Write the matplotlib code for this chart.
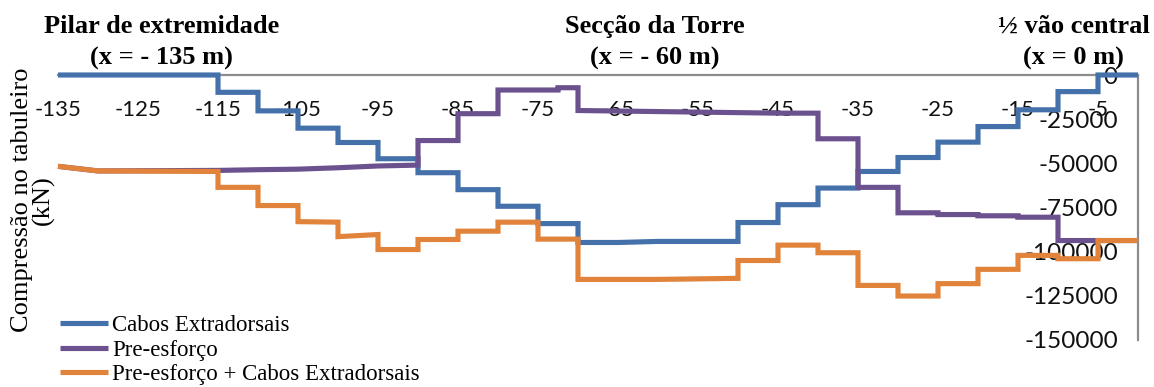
import matplotlib.pyplot as plt

# deck compression along the half-bridge (kN), x in metres from mid-span
cabos_x = [-135, -115, -115, -110, -110, -105, -105, -100, -100, -95, -95, -90, -90,
           -85, -85, -80, -80, -75, -75, -70, -70, -65, -60, -50, -50, -45, -45,
           -40, -40, -35, -35, -30, -30, -25, -25, -20, -20, -15, -15, -10, -10, -5, -5, 0]
cabos_y = [0, 0, -9800, -9800, -20300, -20300, -30100, -30100, -38200, -38200, -47400, -47400, -55300,
           -55300, -64900, -64900, -74300, -74300, -84100, -84100, -94800, -94800, -94200, -94200, -83500, -83500, -73400,
           -73400, -64000, -64000, -54600, -54600, -46700, -46700, -38000, -38000, -29200, -29200, -19700, -19700, -9400, -9400, 0, 0]

pre_x = [-135, -130, -115, -110, -105, -100, -95, -90, -90, -85, -85, -80, -80, -72.5, -72.5, -70, -70,
         -60, -50, -45, -40, -40, -35, -35, -30, -30, -25, -25, -20, -20, -15, -15, -10, -10, 0]
pre_y = [-51700, -54300, -54000, -53600, -53300, -52500, -51500, -51000, -37100, -37100, -21900, -21900, -8500, -8500, -7200, -7200, -20100,
         -20700, -21300, -21600, -21600, -36100, -36100, -63600, -63600, -78000, -78000, -79000, -79000, -79700, -79700, -80500, -80500, -93700, -93700]

soma_x = [-135, -130, -115, -115, -110, -110, -105, -105, -100, -100, -95, -95, -90, -90,
          -85, -85, -80, -80, -75, -75, -70, -70, -60, -50, -50, -45, -45, -40, -40,
          -35, -35, -30, -30, -25, -25, -20, -20, -15, -15, -10, -10, -5, -5, 0]
soma_y = [-51700, -54300, -54600, -63600, -63600, -73900, -73900, -83000, -83300, -91500, -90300, -98800, -98800, -93100,
          -93100, -88400, -88400, -83300, -83300, -92900, -92900, -115700, -115700, -115100, -105000, -105000, -96300, -96300, -100600,
          -100600, -119100, -119100, -125100, -125100, -118100, -118100, -110000, -110000, -102100, -102100, -104000, -104000, -93700, -93700]

series = [
    ("Cabos Extradorsais", cabos_x, cabos_y, "#4571AB"),
    ("Pre-esforço", pre_x, pre_y, "#6B518E"),
    ("Pre-esforço + Cabos Extradorsais", soma_x, soma_y, "#E1833A"),
]

x_ticks = list(range(-135, 0, 10))
y_ticks = [0, -25000, -50000, -75000, -100000, -125000, -150000]

secoes = [
    (161.7, "Pilar de extremidade", "(x = - 135 m)"),
    (654.5, "Secção da Torre", "(x = - 60 m)"),
    (1073.5, "½ vão central", "(x = 0 m)"),
]

W, H = 1154, 387
fig = plt.figure(figsize=(W / 100, H / 100), dpi=100)
ax = fig.add_axes([58 / W, 1 - 340 / H, (1138 - 58) / W, (340 - 75) / H])

for nome, xs, ys, cor in series:
    ax.plot(xs, ys, color=cor, lw=3.7, label=nome, zorder=3, clip_on=False,
            solid_joinstyle="miter", solid_capstyle="butt")

ax.set_xlim(-135, 0)
ax.set_ylim(-150000, 0)

for lado in ["left", "bottom"]:
    ax.spines[lado].set_visible(False)
for lado in ["top", "right"]:
    ax.spines[lado].set_color("#8c8c8c")
    ax.spines[lado].set_linewidth(1.6)

ax.set_xticks(x_ticks)
ax.set_xticklabels([str(v) for v in x_ticks])
ax.tick_params(axis="x", bottom=False, labelbottom=False, top=False, labeltop=True,
               pad=-36, labelsize=16, labelcolor="#111111")
ax.set_yticks(y_ticks)
ax.set_yticklabels([str(v) for v in y_ticks])
ax.tick_params(axis="y", left=False, labelleft=False, right=False, labelright=True,
               pad=-18, labelsize=17.5, labelcolor="#111111")
for lbl in ax.get_xticklabels() + ax.get_yticklabels():
    lbl.set_fontfamily("Lato")
for lbl in ax.get_yticklabels():
    lbl.set_horizontalalignment("right")

serif = "Liberation Serif"
for cx, linha1, linha2 in secoes:
    fig.text(cx / W, 1 - 33 / H, linha1, ha="center", va="baseline",
             fontsize=19, fontweight="bold", family=serif)
    fig.text(cx / W, 1 - 65 / H, linha2, ha="center", va="baseline",
             fontsize=19, fontweight="bold", family=serif)

fig.text(33 / W, 1 - 200 / H, "Compressão no tabuleiro\n(kN)", rotation=90,
         ha="center", va="center", multialignment="center", linespacing=0.98,
         fontsize=19, family=serif)

fig.legend(loc="center left", bbox_to_anchor=(60 / W, 1 - 350 / H), frameon=False,
           borderpad=0, borderaxespad=0, handlelength=2.1, handletextpad=0.17,
           labelspacing=0.17, prop={"family": serif, "size": 16.5})

fig.savefig("out.png", dpi=100)
